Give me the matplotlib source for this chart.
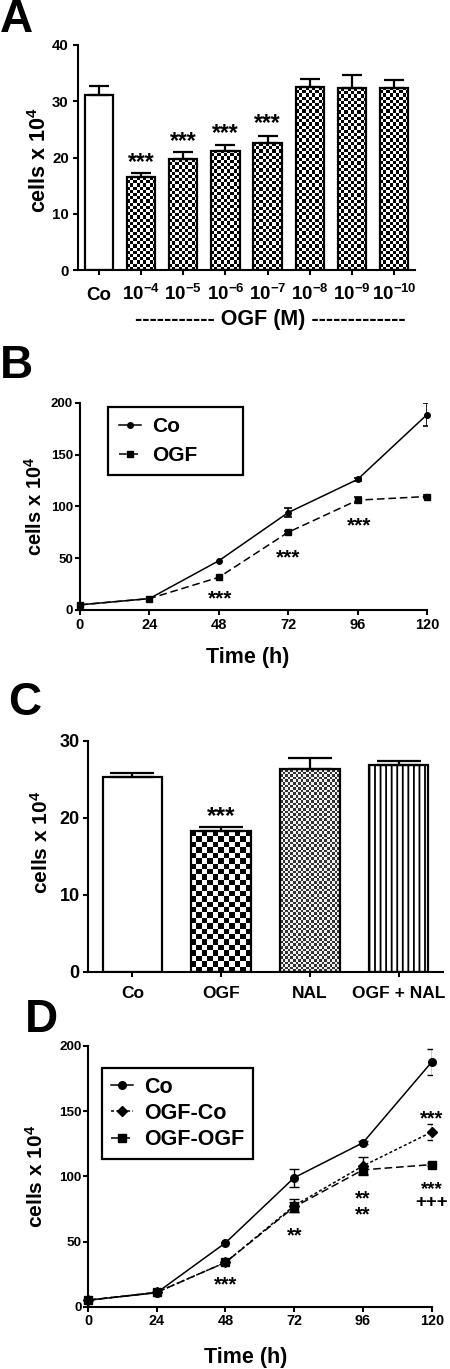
import numpy as np
import matplotlib
matplotlib.use('Agg')
import matplotlib.pyplot as plt
from matplotlib.colors import ListedColormap

plt.rcParams['font.family'] = ['Liberation Sans', 'DejaVu Sans']
plt.rcParams['font.weight'] = 'bold'
plt.rcParams['mathtext.fontset'] = 'custom'
plt.rcParams['mathtext.rm'] = 'Liberation Sans:bold'
plt.rcParams['mathtext.bf'] = 'Liberation Sans:bold'
plt.rcParams['mathtext.it'] = 'Liberation Sans:bold'
plt.rcParams['hatch.linewidth'] = 1.3

# ---- Panel A: OGF dose response ----
dose_labels = ['Co', r'$10^{-4}$', r'$10^{-5}$', r'$10^{-6}$', r'$10^{-7}$',
               r'$10^{-8}$', r'$10^{-9}$', r'$10^{-10}$']
dose_cells = [31.2, 16.5, 19.7, 21.2, 22.5, 32.5, 32.3, 32.4]
dose_sem = [1.5, 0.7, 1.2, 1.0, 1.4, 1.5, 2.4, 1.3]
dose_star_idx = [1, 2, 3, 4]
dose_star_y = [20.4, 24.0, 25.5, 27.3]

# ---- Panel B: growth curve ----
hours = [0, 24, 48, 72, 96, 120]
b_co = [5, 11, 47.5, 94, 126, 188.5]
b_co_sem = [0, 0, 0, 4, 1.5, 11]
b_ogf = [5, 11, 31.5, 75, 106, 109.5]
b_ogf_sem = [0, 0, 0, 1.5, 3, 1.2]
b_star_x = [48.5, 72, 96.5, 120.6]
b_star_y = [16.7, 57, 87.5, 92.6]

# ---- Panel C: treatments ----
treat_labels = ['Co', 'OGF', 'NAL', 'OGF + NAL']
treat_cells = [25.3, 18.3, 26.3, 26.8]
treat_sem = [0.55, 0.45, 1.4, 0.5]
treat_star_idx = [1]
treat_star_y = [21.1]

# ---- Panel D: recovery ----
d_co = [5, 10.7, 49, 99, 125.8, 187.7]
d_co_sem = [0, 0, 0, 7, 1, 10]
d_ogf_co = [5, 11, 34, 77.5, 108, 134]
d_ogf_co_sem = [0, 0, 0, 5, 7, 6]
d_ogf_ogf = [5, 11, 34, 76.5, 105, 109]
d_ogf_ogf_sem = [0, 0, 0, 4, 3, 1]
# y = visual centre of the last line of each mark
d_marks_x = [48, 72, 96, 120, 120]
d_marks_y = [21.7, 59.3, 75, 149, 81.3]
d_marks_txt = ['***', '**', '**\n**', '***', '***\n+++']

W, H = 450, 1369
fig = plt.figure(figsize=(W / 100, H / 100), dpi=100)


def rect(left, top, right, bottom):
    return [left / W, 1 - bottom / H, (right - left) / W, (bottom - top) / H]


def style(ax):
    for s in ['top', 'right']:
        ax.spines[s].set_visible(False)
    for s in ['left', 'bottom']:
        ax.spines[s].set_linewidth(1.5)
    ax.tick_params(direction='out', length=3.6, width=1.5)


def checker(ax, patch, cell_px, dark, light):
    x0, y0 = patch.get_x(), patch.get_y()
    w, h = patch.get_width(), patch.get_height()
    p0 = ax.transData.transform((x0, y0))
    p1 = ax.transData.transform((x0 + w, y0 + h))
    nx = max(1, int(round(abs(p1[0] - p0[0]) / cell_px)))
    ny = max(1, int(round(abs(p1[1] - p0[1]) / cell_px)))
    grid = np.add.outer(np.arange(ny), np.arange(nx)) % 2
    im = ax.imshow(grid, extent=(x0, x0 + w, y0, y0 + h), origin='lower',
                   cmap=ListedColormap([light, dark]), interpolation='nearest',
                   aspect='auto', zorder=1)
    im.set_clip_path(patch)


def stars(ax, x, y, txt, size, spacing=0.8):
    # y is the visual centre of the last line of glyphs
    off = 0.58 * size if '*' in txt.split('\n')[-1] else 0.36 * size
    ax.annotate(txt, (x, y), xytext=(0, -off), textcoords='offset points',
                ha='center', va='baseline', fontsize=size, fontweight='bold',
                linespacing=spacing, multialignment='center')


def errs(ax, x, y, e, cap, lw=1.2):
    xs = [a for a, s in zip(x, e) if s > 0]
    ys = [b for b, s in zip(y, e) if s > 0]
    es = [s for s in e if s > 0]
    ax.errorbar(xs, ys, yerr=es, fmt='none', ecolor='black', elinewidth=lw,
                capsize=cap, capthick=lw, zorder=4)


# ===== A =====
axA = fig.add_axes(rect(78, 45, 415, 270))
style(axA)
axA.set_xlim(-0.5, 7.5)
axA.set_ylim(0, 40)
xA = np.arange(len(dose_cells))
barsA = axA.bar(xA, dose_cells, width=0.67, facecolor='none', edgecolor='black',
                linewidth=1.6, zorder=2)
barsA[0].set_facecolor('white')
for b in barsA[1:]:
    checker(axA, b, 3.2, 'black', 'white')
axA.errorbar(xA, dose_cells, yerr=[np.zeros(len(dose_sem)), dose_sem], fmt='none',
             ecolor='black', elinewidth=1.6, capsize=7, capthick=1.6, zorder=3)
axA.set_yticks([0, 10, 20, 30, 40])
axA.set_xticks(xA)
axA.set_xticklabels(dose_labels, fontsize=13.5)
for t in axA.get_xticklabels():
    t.set_va('baseline')
axA.tick_params(axis='x', pad=18)
axA.tick_params(axis='y', labelsize=10.8, pad=3)
axA.set_ylabel('cells x 10$^{4}$', fontsize=15.5, fontweight='bold')
axA.yaxis.set_label_coords(-0.08, 0.49)
for i, y in zip(dose_star_idx, dose_star_y):
    stars(axA, i, y, '***', 16.5)
fig.text(270 / W, 1 - 320 / H, '----------- OGF (M) -------------', ha='center',
         va='center', fontsize=15.5, fontweight='bold')

# ===== B =====
axB = fig.add_axes(rect(80, 402.7, 427, 610))
style(axB)
axB.set_xlim(0, 120)
axB.set_ylim(0, 200)
axB.plot(hours, b_co, '-', color='black', lw=1.1, marker='o', ms=4,
         label='Co', zorder=3, clip_on=False)
axB.plot(hours, b_ogf, color='black', lw=1.1, ls=(0, (5, 2.5)), marker='s', ms=4,
         label='OGF', zorder=3, clip_on=False)
errs(axB, hours, b_co, b_co_sem, 3)
errs(axB, hours, b_ogf, b_ogf_sem, 3)
axB.set_xticks(hours)
axB.set_yticks([0, 50, 100, 150, 200])
axB.tick_params(axis='x', labelsize=10.5, pad=2)
axB.tick_params(axis='y', labelsize=9.5, pad=1.5)
axB.set_ylabel('cells x 10$^{4}$', fontsize=14.5, fontweight='bold')
axB.yaxis.set_label_coords(-0.098, 0.5)
axB.set_xlabel('Time (h)', fontsize=15.5, fontweight='bold')
axB.xaxis.set_label_coords(0.484, -0.178)
for x, y in zip(b_star_x, b_star_y):
    stars(axB, x, y, '***', 15)
legB = axB.legend(loc='upper left', bbox_to_anchor=(0.081, 0.0, 0.389, 0.979),
                  mode='expand', borderaxespad=0,
                  fontsize=15, handlelength=1.1, handletextpad=0.5, labelspacing=0.45,
                  borderpad=0.5, fancybox=False, framealpha=1, edgecolor='black')
legB.get_frame().set_linewidth(1.6)

# ===== C =====
axC = fig.add_axes(rect(88, 740.7, 443, 971.7))
style(axC)
axC.set_xlim(-0.5, 3.5)
axC.set_ylim(0, 30)
xC = np.arange(len(treat_cells))
barsC = axC.bar(xC, treat_cells, width=0.67, facecolor='none', edgecolor='black',
                linewidth=1.6, zorder=2)
barsC[0].set_facecolor('white')
checker(axC, barsC[1], 5.5, 'black', 'white')
checker(axC, barsC[2], 2.6, '#333333', '#f2f2f2')
barsC[3].set_facecolor('white')
barsC[3].set_hatch('|||')
axC.errorbar(xC, treat_cells, yerr=[np.zeros(len(treat_sem)), treat_sem], fmt='none',
             ecolor='black', elinewidth=1.6, capsize=16, capthick=1.6, zorder=3)
axC.set_xticks(xC)
axC.set_xticklabels(treat_labels, fontsize=12.5)
axC.set_yticks([0, 10, 20, 30])
axC.tick_params(axis='x', pad=7)
axC.tick_params(axis='y', labelsize=13, pad=2.5)
axC.set_ylabel('cells x 10$^{4}$', fontsize=15, fontweight='bold')
axC.yaxis.set_label_coords(-0.101, 0.56)
for i, y in zip(treat_star_idx, treat_star_y):
    stars(axC, i, y, '***', 17.5)

# ===== D =====
axD = fig.add_axes(rect(88, 1046, 431.7, 1306.7))
style(axD)
axD.set_xlim(0, 120)
axD.set_ylim(0, 200)
axD.plot(hours, d_co, '-', color='black', lw=1.1, marker='o', ms=5.5,
         label='Co', zorder=3, clip_on=False)
axD.plot(hours, d_ogf_co, color='black', lw=1.1, ls=(0, (2, 1.5)), marker='D', ms=5,
         label='OGF-Co', zorder=3, clip_on=False)
axD.plot(hours, d_ogf_ogf, color='black', lw=1.1, ls=(0, (5, 2.5)), marker='s', ms=5.5,
         label='OGF-OGF', zorder=3, clip_on=False)
errs(axD, hours, d_co, d_co_sem, 3.5, 1.0)
errs(axD, hours, d_ogf_co, d_ogf_co_sem, 3.5, 1.0)
errs(axD, hours, d_ogf_ogf, d_ogf_ogf_sem, 3.5, 1.0)
axD.set_xticks(hours)
axD.set_yticks([0, 50, 100, 150, 200])
axD.tick_params(axis='x', labelsize=10.4, pad=2)
axD.tick_params(axis='y', labelsize=9.7, pad=1)
axD.set_ylabel('cells x 10$^{4}$', fontsize=15, fontweight='bold')
axD.yaxis.set_label_coords(-0.119, 0.5)
axD.set_xlabel('Time (h)', fontsize=15.5, fontweight='bold')
axD.xaxis.set_label_coords(0.46, -0.155)
for x, y, t in zip(d_marks_x, d_marks_y, d_marks_txt):
    if '+' in t:
        stars(axD, x, y, t, 13.5, spacing=0.76)
    else:
        stars(axD, x, y, t, 14.5, spacing=0.81)
legD = axD.legend(loc='upper left', bbox_to_anchor=(0.041, 0.916), borderaxespad=0,
                  fontsize=15.5, handlelength=1.05, handletextpad=0.5, labelspacing=0.25,
                  borderpad=0.4, fancybox=False, framealpha=1, edgecolor='black')
legD.get_frame().set_linewidth(1.6)

# panel letters
for letter, x, y in [('A', 0, 32), ('B', 0, 378), ('C', 8, 715), ('D', 25, 1032)]:
    fig.text(x / W, 1 - y / H, letter, fontsize=33, fontweight='bold',
             ha='left', va='baseline')

fig.savefig('out.png', dpi=100)
